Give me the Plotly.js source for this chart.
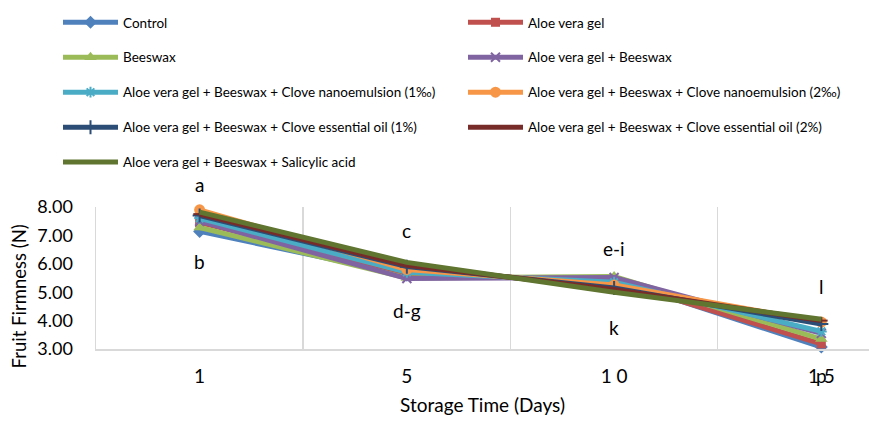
<!DOCTYPE html>
<html>
<head>
<meta charset="utf-8">
<script src="https://cdn.plot.ly/plotly-3.0.1.min.js"></script>
<style>
  html, body { margin: 0; padding: 0; background: #fff; }
  #chart { width: 869px; height: 422px; }
</style>
</head>
<body>
<div id="chart"></div>
<script>
// ---- data ----
const storageDays = [1, 5, 10, 15];
const dayTickLabels = ['1', '5', '1 0', '1 5'];

const seriesNames = [
  'Control',
  'Aloe vera gel',
  'Beeswax',
  'Aloe vera gel + Beeswax',
  'Aloe vera gel + Beeswax + Clove nanoemulsion (1‰)',
  'Aloe vera gel + Beeswax + Clove nanoemulsion (2‰)',
  'Aloe vera gel + Beeswax + Clove essential oil (1%)',
  'Aloe vera gel + Beeswax + Clove essential oil (2%)',
  'Aloe vera gel + Beeswax + Salicylic acid'
];

const controlVals   = [7.14, 5.60, 5.45, 3.07];
const aloeVals      = [7.45, 5.65, 5.40, 3.18];
const beeswaxVals   = [7.28, 5.50, 5.55, 3.35];
const aloeBwVals    = [7.50, 5.48, 5.52, 3.55];
const nano1Vals     = [7.60, 5.70, 5.35, 3.62];
const nano2Vals     = [7.90, 5.80, 5.25, 3.95];
const oil1Vals      = [7.70, 5.90, 5.15, 3.88];
const oil2Vals      = [7.75, 5.95, 5.10, 4.00];
const salicylicVals = [7.82, 6.05, 5.00, 4.05];

const allValues = [controlVals, aloeVals, beeswaxVals, aloeBwVals, nano1Vals,
                   nano2Vals, oil1Vals, oil2Vals, salicylicVals];

// significance letters (text, day, y value)
const letterTexts = ['a', 'b', 'c', 'd-g', 'e-i', 'k', 'l', 'p'];
const letterDays  = [1, 1, 5, 5, 10, 10, 15, 15];
const letterY     = [8.79, 6.09, 7.18, 4.37, 6.54, 3.77, 5.21, 2.05];

const yRange = [3, 8];

// Excel-style category axis: equally spaced categories
const catPos = d => storageDays.indexOf(d);
// position relative to the y axis (allows letters outside the axis range)
const yFrac = v => (v - yRange[0]) / (yRange[1] - yRange[0]);

// ---- styles ----
const colors = ['#4F81BD', '#C0504D', '#9BBB59', '#8064A2', '#4BACC6',
                '#F79646', '#2C4D75', '#772C2A', '#5F7530'];
const symbols = ['diamond', 'square', 'triangle-up', 'x-thin-open', 'asterisk-open',
                 'circle', 'cross-thin-open', 'line-ew-open', null];
const sizes = [10, 9, 11, 9, 9, 11, 10, 9, 0];
const legendOf = ['legend', 'legend2', 'legend', 'legend2', 'legend',
                  'legend2', 'legend', 'legend2', 'legend'];

const FONT = 'Lato, "Open Sans", sans-serif';

const traces = allValues.map((vals, i) => {
  const t = {
    type: 'scatter',
    x: storageDays.map(catPos),
    y: vals,
    name: seriesNames[i],
    legend: legendOf[i],
    legendgroup: 'g' + i,
    line: { color: colors[i], width: 5 },
    cliponaxis: false,
    hoverinfo: 'skip'
  };
  if (symbols[i]) {
    t.mode = 'lines+markers';
    const open = symbols[i].endsWith('-open');
    t.marker = {
      symbol: symbols[i],
      size: sizes[i],
      color: colors[i],
      line: { color: colors[i], width: open ? 2 : 0 }
    };
  } else {
    t.mode = 'lines';
  }
  return t;
});

const annotations = letterTexts.map((txt, i) => ({
  x: catPos(letterDays[i]), y: yFrac(letterY[i]), xref: 'x', yref: 'y domain',
  text: txt, showarrow: false,
  font: { family: FONT, size: 19, color: '#000' },
  xanchor: 'center', yanchor: 'middle'
}));
annotations.push({
  xref: 'paper', yref: 'paper', x: -96 / 773 + 19 / 773, y: 0.37,
  text: 'Fruit Firmness (N)', textangle: -90, showarrow: false,
  font: { family: FONT, size: 18.5, color: '#000' },
  xanchor: 'center', yanchor: 'middle'
});

const legendCommon = {
  orientation: 'v',
  font: { family: FONT, size: 13.5, color: '#000' },
  bgcolor: 'rgba(0,0,0,0)',
  borderwidth: 0,
  itemwidth: 55,
  tracegroupgap: 14.4,
  traceorder: 'grouped',
  xref: 'container', yref: 'container',
  xanchor: 'left', yanchor: 'top'
};

const layout = {
  width: 869, height: 422,
  margin: { l: 96, r: 0, t: 207, b: 73, autoexpand: false },
  paper_bgcolor: '#fff', plot_bgcolor: '#fff',
  font: { family: FONT, color: '#000' },
  showlegend: true,
  legend: Object.assign({}, legendCommon, { x: 58 / 869, y: 1 - 7 / 422 }),
  legend2: Object.assign({}, legendCommon, { x: 463 / 869, y: 1 - 7 / 422 }),
  xaxis: {
    type: 'linear',
    range: [-0.5, 3.23],
    tickmode: 'array',
    tickvals: storageDays.map(catPos),
    ticktext: dayTickLabels,
    ticks: '',
    showgrid: false,
    minor: {
      tickmode: 'array',
      tickvals: [0.5, 1.5, 2.5],
      showgrid: true, gridcolor: '#D9D9D9', gridwidth: 1.5, ticks: ''
    },
    showline: true, linecolor: '#D9D9D9', linewidth: 1.5,
    zeroline: false,
    tickfont: { family: FONT, size: 19, color: '#000' },
    ticklabelstandoff: 10,
    title: { text: 'Storage Time (Days)', font: { family: FONT, size: 19, color: '#000' }, standoff: 12 }
  },
  yaxis: {
    range: yRange,
    tickmode: 'array',
    tickvals: [3, 4, 5, 6, 7, 8],
    tickformat: '.2f',
    ticks: '',
    showgrid: false,
    showline: true, linecolor: '#D9D9D9', linewidth: 1.5,
    zeroline: false,
    tickfont: { family: FONT, size: 18, color: '#000' },
    ticklabelstandoff: 18
  },
  annotations: annotations
};

Plotly.newPlot('chart', traces, layout, { displayModeBar: false, staticPlot: true });
</script>
</body>
</html>
